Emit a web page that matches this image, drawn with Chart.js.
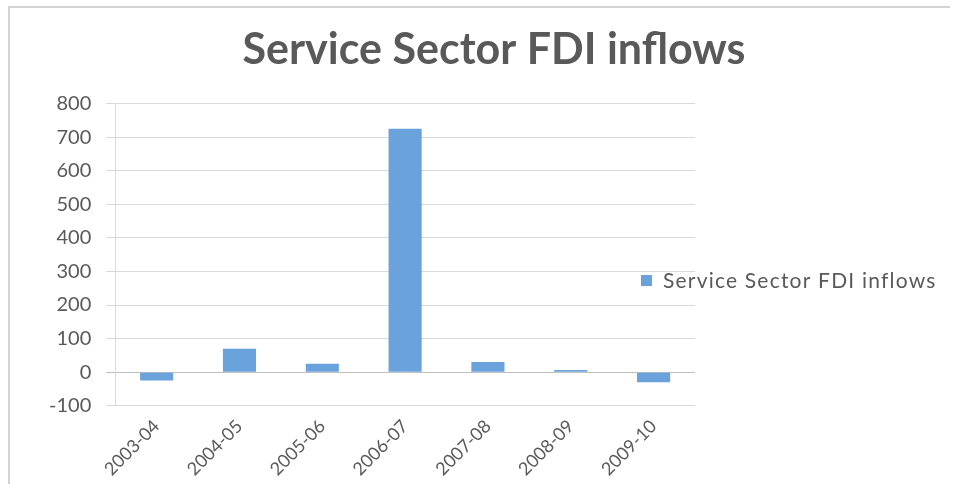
<!DOCTYPE html>
<html>
<head>
<meta charset="utf-8">
<script src="https://cdn.jsdelivr.net/npm/chart.js@4/dist/chart.umd.min.js"></script>
<style>
  html, body { margin: 0; padding: 0; background: #fff; }
  #wrap { position: relative; width: 954px; height: 484px; }
  #frame {
    position: absolute; left: 8px; top: 6px; right: 4px; bottom: -4px;
    border-top: 2px solid #d4d4d4; border-left: 2px solid #d4d4d4;
    pointer-events: none;
  }
</style>
</head>
<body>
<div id="wrap">
  <canvas id="fdiChart" width="954" height="484"></canvas>
  <div id="frame"></div>
</div>
<script>
const years = ['2003-04', '2004-05', '2005-06', '2006-07', '2007-08', '2008-09', '2009-10'];
const fdiInflows = [-25, 70, 25, 725, 30, 6, -30];
const seriesName = 'Service Sector FDI inflows';
const chartTitle = 'Service Sector FDI inflows';

const barBlue = '#6aa3dc';
const textGrey = '#595959';
const gridGrey = '#d9d9d9';

// draws the single legend entry over the right side of the plot, the way the sheet does
const sideLegend = {
    id: 'sideLegend',
    afterDraw(chart) {
        const ctx = chart.ctx;
        const ds = chart.data.datasets[0];
        const x = 641, y = 281;
        ctx.save();
        ctx.fillStyle = ds.backgroundColor;
        ctx.fillRect(x, y - 6, 11, 11);
        ctx.fillStyle = textGrey;
        ctx.font = '21px Lato';
        ctx.letterSpacing = '1.2px';
        ctx.textBaseline = 'middle';
        ctx.fillText(ds.label, x + 22, y);
        ctx.restore();
    }
};

const ctx = document.getElementById('fdiChart').getContext('2d');

new Chart(ctx, {
    type: 'bar',
    data: {
        labels: years,
        datasets: [{
            label: seriesName,
            data: fdiInflows,
            backgroundColor: barBlue,
            borderWidth: 0,
            categoryPercentage: 1,
            barPercentage: 0.4
        }]
    },
    options: {
        responsive: false,
        animation: false,
        layout: { padding: { left: 34, right: 0, top: 0, bottom: 2 } },
        plugins: {
            legend: { display: false },
            tooltip: { enabled: false },
            title: {
                display: true,
                text: chartTitle,
                color: textGrey,
                font: { family: 'Lato', size: 43, weight: 'bold' },
                padding: { top: 24, bottom: 28 }
            }
        },
        scales: {
            x: {
                grid: { display: false },
                border: { display: false },
                ticks: {
                    color: textGrey,
                    font: { family: 'Lato', size: 18 },
                    minRotation: 45,
                    maxRotation: 45,
                    padding: 2
                }
            },
            y: {
                min: -100,
                max: 800,
                border: { display: true, color: gridGrey },
                grid: {
                    color: (c) => c.tick && c.tick.value === 0 ? '#bfbfbf' : gridGrey,
                    tickLength: 9
                },
                ticks: {
                    stepSize: 100,
                    color: textGrey,
                    font: { family: 'Lato', size: 20 },
                    padding: 15
                }
            },
            // empty right-hand axis that keeps the space where the legend sits
            side: {
                position: 'right',
                grid: { display: false },
                border: { display: false },
                ticks: { display: false },
                afterFit(scale) { scale.width = 259; }
            }
        }
    },
    plugins: [sideLegend]
});
</script>
</body>
</html>
